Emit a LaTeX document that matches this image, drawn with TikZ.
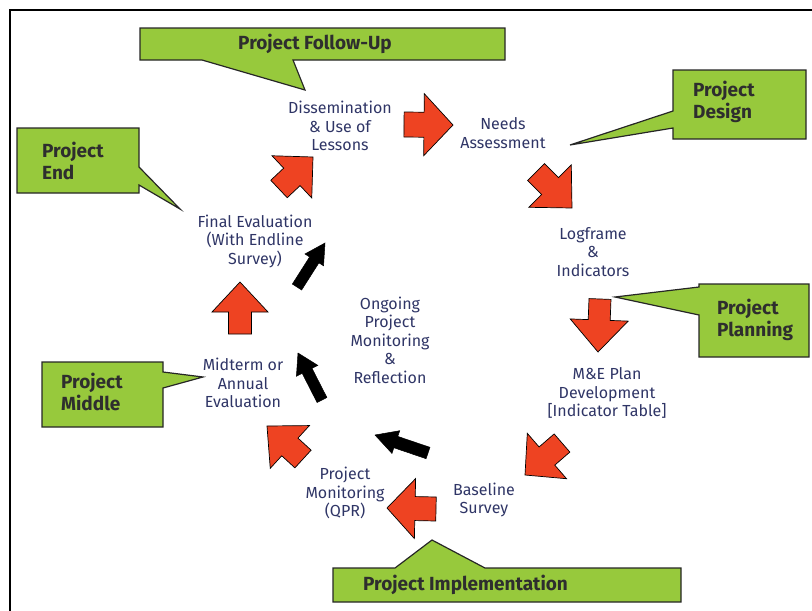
\documentclass[tikz,border=0pt]{standalone}
\usepackage{fontspec}
\setmainfont{Fira Sans}
\usetikzlibrary{calc}
\definecolor{callgreen}{HTML}{97C93C}
\definecolor{arrred}{HTML}{EE4322}
\definecolor{lblblue}{HTML}{2F3566}
\tikzset{
  callout/.style={fill=callgreen, draw=black!85, line width=1.2pt, line join=miter},
  calltext/.style={font=\fontsize{19}{21.5}\selectfont\bfseries, text=black!82, align=left, inner sep=0, anchor=west},
  stage/.style={font=\fontsize{16}{18.5}\selectfont, text=lblblue, align=center, inner sep=0},
  redarr/.style={fill=arrred, draw=black, line width=0.7pt, line join=miter},
  blkarr/.style={fill=black, draw=black, line width=0.5pt, line join=miter},
  frameline/.style={draw=black, line width=2pt},
}
\newcommand\blockarr[6]{%
  \coordinate (bb) at ($(#3)!#6pt!(#2)$);
  \draw[#1] ($(#2)!#4pt!90:(#3)$) -- ($(bb)!#4pt!90:(#3)$) -- ($(bb)!#5pt!90:(#3)$) -- (#3)
    -- ($(bb)!#5pt!-90:(#3)$) -- ($(bb)!#4pt!-90:(#3)$) -- ($(#2)!#4pt!-90:(#3)$) -- cycle;}
\begin{document}
\begin{tikzpicture}[x=1pt,y=-1pt]
\useasboundingbox (0,0) rectangle (812,611);
\draw[frameline] (10,611) -- (10,10) -- (812,10);

% callouts
\draw[callout] (140,28) -- (505,28) -- (505,60) -- (293,60) -- (305,90) -- (202,60) -- (140,60) -- cycle;
\node[calltext, anchor=center] (cfollow) at (315,44) {Project Follow-Up};

\draw[callout] (673,70) -- (806,70) -- (806,139) -- (673,139) -- (673,128) -- (570,145) -- (673,111) -- cycle;
\node[calltext] (cdesign) at (693,102) {Project\\Design};

\draw[callout] (699,284) -- (809,284) -- (809,357) -- (699,357) -- (699,315) -- (615,297) -- (699,287) -- cycle;
\node[calltext] (cplan) at (717,320) {Project\\Planning};

\draw[callout] (17,128) -- (139,128) -- (139,167) -- (180,209) -- (139,185) -- (139,193) -- (17,193) -- cycle;
\node[calltext] (cend) at (42,161) {Project\\End};

\draw[callout] (42,362) -- (163,362) -- (163,372) -- (203,377) -- (163,388) -- (163,427) -- (42,427) -- cycle;
\node[calltext] (cmid) at (61,392) {Project\\Middle};

\draw[callout] (333,568) -- (395,568) -- (432,540) -- (485,568) -- (681,568) -- (681,602) -- (333,602) -- cycle;
\node[calltext] (cimpl) at (363,585) {Project Implementation};

% stages
\node[stage] (diss) at (340,126) {Dissemination\\\& Use of\\Lessons};
\node[stage] (needs) at (503,133) {Needs\\Assessment};
\node[stage] (logf) at (593,252) {Logframe\\\&\\Indicators};
\node[stage] (mep) at (607,393) {M\&E Plan\\Development\\{[}Indicator Table{]}};
\node[stage] (base) at (484,500) {Baseline\\Survey};
\node[stage] (mon) at (345,493) {Project\\Monitoring\\(QPR)};
\node[stage] (mid) at (243,383) {Midterm or\\Annual\\Evaluation};
\node[stage] (fin) at (255,241) {Final Evaluation\\(With Endline\\Survey)};
\node[stage] (ongo) at (390,340) {Ongoing\\Project\\Monitoring\\\&\\Reflection};

% red arrow ends
\coordinate (a1t) at (404,124.5); \coordinate (a1p) at (453,125);
\coordinate (a2t) at (536,172);   \coordinate (a2p) at (572,208);
\coordinate (a3t) at (600,299);   \coordinate (a3p) at (598,352);
\coordinate (a4t) at (562,443);   \coordinate (a4p) at (525,475);
\coordinate (a5t) at (436,509);   \coordinate (a5p) at (387,508);
\coordinate (a6t) at (303,459);   \coordinate (a6p) at (267,426);
\coordinate (a7t) at (240,334);   \coordinate (a7p) at (240,282);
\coordinate (a8t) at (279,189);   \coordinate (a8p) at (313,157);
\blockarr{redarr}{a1t}{a1p}{12.5}{31}{29}
\blockarr{redarr}{a2t}{a2p}{12}{30}{31}
\blockarr{redarr}{a3t}{a3p}{11}{29}{32}
\blockarr{redarr}{a4t}{a4p}{12}{30}{29}
\blockarr{redarr}{a5t}{a5p}{12}{30}{28}
\blockarr{redarr}{a6t}{a6p}{12}{29}{31}
\blockarr{redarr}{a7t}{a7p}{11.5}{28}{30}
\blockarr{redarr}{a8t}{a8p}{12}{29}{29}

% black arrows
\coordinate (b1t) at (297,287); \coordinate (b1p) at (325,243);
\coordinate (b2t) at (322,400); \coordinate (b2p) at (298,353);
\coordinate (b3t) at (428,453); \coordinate (b3p) at (375,435);
\blockarr{blkarr}{b1t}{b1p}{5.5}{11}{20}
\blockarr{blkarr}{b2t}{b2p}{5.5}{12}{20}
\blockarr{blkarr}{b3t}{b3p}{6}{12}{22}
\end{tikzpicture}
\end{document}
